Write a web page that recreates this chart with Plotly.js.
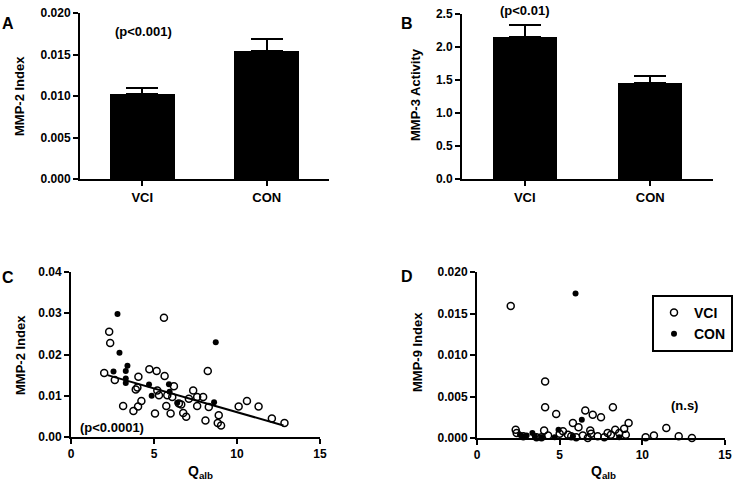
<!DOCTYPE html>
<html>
<head>
<meta charset="utf-8">
<script src="https://cdn.plot.ly/plotly-3.0.1.min.js"></script>
<style>html,body{margin:0;padding:0;background:#fff;}#chart{width:735px;height:485px;}</style>
</head>
<body>
<div id="chart"></div>
<script>
// Panel A: MMP-2 Index by group
const groups = ["VCI", "CON"];
const mmp2Means = [0.0103, 0.0154];
const mmp2Sem = [0.0007, 0.0015];
// Panel B: MMP-3 Activity by group
const mmp3Means = [2.15, 1.45];
const mmp3Sem = [0.18, 0.11];

// Panel C: MMP-2 Index vs Qalb
const cVciX = [2.0, 2.3, 2.36, 2.64, 3.14, 3.76, 3.9, 4.0, 4.06, 4.04, 4.24, 4.72, 5.16, 5.06, 5.2, 5.3, 5.6, 5.64, 5.74, 5.8, 6.0, 6.2, 6.1, 6.5, 6.64, 6.76, 6.94, 7.1, 7.36, 7.6, 7.6, 7.96, 8.1, 8.24, 8.3, 8.9, 8.84, 9.04, 10.1, 10.6, 11.3, 12.1, 12.86];
const cVciY = [0.0155, 0.0255, 0.0228, 0.0138, 0.0075, 0.0063, 0.0115, 0.0120, 0.0146, 0.0074, 0.0087, 0.0164, 0.0160, 0.0057, 0.0113, 0.0101, 0.0289, 0.0148, 0.0075, 0.0101, 0.0057, 0.0123, 0.0097, 0.0081, 0.0079, 0.0058, 0.0049, 0.0093, 0.0113, 0.0097, 0.0075, 0.0097, 0.0040, 0.0160, 0.0073, 0.0053, 0.0034, 0.0028, 0.0074, 0.0087, 0.0074, 0.0045, 0.0034];
const cConX = [2.8, 2.92, 2.56, 3.4, 3.3, 3.3, 3.3, 4.7, 4.86, 5.9, 5.94, 6.4, 8.72, 8.62];
const cConY = [0.0298, 0.0204, 0.0159, 0.0173, 0.0160, 0.0142, 0.0131, 0.0127, 0.0100, 0.0128, 0.0110, 0.0083, 0.0230, 0.0084];
const cFitX = [2.2, 12.8];
const cFitY = [0.0150, 0.0028];

// Panel D: MMP-9 Index vs Qalb
const dVciX = [2.04, 4.12, 4.12, 4.79, 6.55, 7.0, 7.5, 8.22, 5.8, 6.14, 9.17, 11.45, 2.34, 2.4, 4.06, 8.9, 8.36, 6.85, 2.8, 3.6, 4.3, 5.2, 5.5, 5.7, 6.0, 6.4, 6.9, 7.3, 7.7, 8.1, 8.6, 9.0, 10.2, 10.7, 12.2, 13.0, 5.0, 7.9, 3.9, 6.7];
const dVciY = [0.0159, 0.0068, 0.0037, 0.0029, 0.0033, 0.0028, 0.0025, 0.0037, 0.0018, 0.0013, 0.0018, 0.0012, 0.0010, 0.0006, 0.0009, 0.0011, 0.0010, 0.0009, 0.0002, 0.0001, 0.0003, 0.0008, 0.0004, 0.0002, 0.0001, 0.0003, 0.0005, 0.0002, 0.0001, 0.0004, 0.0006, 0.0004, 0.0001, 0.0003, 0.0002, 0.0000, 0.0005, 0.0006, 0.0001, 0.0000];
const dConX = [5.96, 6.34, 4.93, 2.6, 2.75, 3.0, 3.35, 3.5, 4.7, 5.8, 8.6, 3.9];
const dConY = [0.0174, 0.0022, 0.0010, 0.0004, 0.0002, 0.0003, 0.0006, 0.0002, 0.0001, 0.0002, 0.0001, 0.0001];

const FONT = "Liberation Sans, Arial, sans-serif";
const tickFont = {family: FONT, size: 12, color: "#000", weight: "bold"};

function axisBase(extra) {
  return Object.assign({
    showline: true, linecolor: "#000", linewidth: 2,
    ticks: "outside", ticklen: 5, tickwidth: 2, tickcolor: "#000",
    showgrid: false, zeroline: false, tickfont: tickFont, fixedrange: true
  }, extra);
}

const openMarker = {symbol: "circle-open", size: 7, color: "#000", line: {width: 1.5, color: "#000"}};
const filledMarker = {symbol: "circle", size: 6, color: "#000"};

const traces = [
  {type: "bar", x: groups, y: mmp2Means, xaxis: "x", yaxis: "y", width: 0.52,
   marker: {color: "#000"}, showlegend: false,
   error_y: {type: "data", symmetric: false, array: mmp2Sem, arrayminus: [0, 0], color: "#000", thickness: 2, width: 16}},
  {type: "bar", x: groups, y: mmp3Means, xaxis: "x2", yaxis: "y2", width: 0.51,
   marker: {color: "#000"}, showlegend: false,
   error_y: {type: "data", symmetric: false, array: mmp3Sem, arrayminus: [0, 0], color: "#000", thickness: 2, width: 16}},
  {type: "scatter", mode: "markers", x: cVciX, y: cVciY, xaxis: "x3", yaxis: "y3",
   marker: openMarker, showlegend: false, cliponaxis: false},
  {type: "scatter", mode: "markers", x: cConX, y: cConY, xaxis: "x3", yaxis: "y3",
   marker: filledMarker, showlegend: false, cliponaxis: false},
  {type: "scatter", mode: "lines", x: cFitX, y: cFitY, xaxis: "x3", yaxis: "y3",
   line: {color: "#000", width: 2}, showlegend: false},
  {type: "scatter", mode: "markers", name: "VCI", x: dVciX, y: dVciY, xaxis: "x4", yaxis: "y4",
   marker: openMarker, showlegend: true, cliponaxis: false},
  {type: "scatter", mode: "markers", name: "CON", x: dConX, y: dConY, xaxis: "x4", yaxis: "y4",
   marker: filledMarker, showlegend: true, cliponaxis: false}
];

const catTickFont = {family: FONT, size: 13, color: "#000", weight: "bold"};

function note(text, px, py, size, bold, angle) {
  return {text: text, x: px/735, y: 1-py/485, xref: "paper", yref: "paper",
    xanchor: "center", yanchor: "middle", showarrow: false, textangle: angle || 0,
    font: {family: FONT, size: size, color: "#000", weight: bold ? "bold" : "normal"}};
}

const layout = {
  width: 735, height: 485,
  margin: {l: 0, r: 0, t: 0, b: 0},
  paper_bgcolor: "#fff", plot_bgcolor: "#fff",
  font: {family: FONT, color: "#000"},
  xaxis: axisBase({domain: [80/735, 329/735], anchor: "y", range: [-0.5, 1.5], tickfont: catTickFont}),
  yaxis: axisBase({domain: [1-179/485, 1-13/485], anchor: "x", range: [0, 0.020], tickvals: [0, 0.005, 0.010, 0.015, 0.020], tickformat: ".3f"}),
  xaxis2: axisBase({domain: [462/735, 713/735], anchor: "y2", range: [-0.5, 1.5], tickfont: catTickFont}),
  yaxis2: axisBase({domain: [1-179/485, 1-14/485], anchor: "x2", range: [0, 2.5], tickvals: [0, 0.5, 1.0, 1.5, 2.0, 2.5], tickformat: ".1f"}),
  xaxis3: axisBase({domain: [71/735, 320/735], anchor: "y3", range: [0, 15], tickvals: [0, 5, 10, 15]}),
  yaxis3: axisBase({domain: [1-437/485, 1-272/485], anchor: "x3", range: [0, 0.04], tickvals: [0, 0.01, 0.02, 0.03, 0.04], tickformat: ".2f"}),
  xaxis4: axisBase({domain: [477/735, 725/735], anchor: "y4", range: [0, 15], tickvals: [0, 5, 10, 15]}),
  yaxis4: axisBase({domain: [1-438/485, 1-272/485], anchor: "x4", range: [0, 0.020], tickvals: [0, 0.005, 0.010, 0.015, 0.020], tickformat: ".3f"}),
  bargap: 0,
  showlegend: true,
  legend: {x: 652/735, y: 1-295/485, xanchor: "left", yanchor: "top",
    bordercolor: "#000", borderwidth: 2, bgcolor: "#fff",
    font: {family: FONT, size: 14, color: "#000", weight: "bold"},
    itemwidth: 30, tracegroupgap: 0},
  annotations: [
    note("A", 8, 23, 16, true),
    note("B", 407, 23, 16, true),
    note("C", 8, 277, 16, true),
    note("D", 407, 276, 16, true),
    note("MMP-2 Index", 20, 96, 13, true, -90),
    note("MMP-3 Activity", 416, 95, 13, true, -90),
    note("MMP-2 Index", 20, 355, 13, true, -90),
    note("MMP-9 Index", 417, 352, 13, true, -90),
    note("Q<sub>alb</sub>", 200, 472, 14, true),
    note("Q<sub>alb</sub>", 603, 472, 14, true),
    note("(p<0.001)", 143, 32, 13, true),
    note("(p<0.01)", 525, 10, 13, true),
    note("(p<0.0001)", 112, 427, 13, true),
    note("(n.s)", 684, 405, 13, true)
  ]
};

Plotly.newPlot("chart", traces, layout, {staticPlot: true, displayModeBar: false});
</script>
</body>
</html>
